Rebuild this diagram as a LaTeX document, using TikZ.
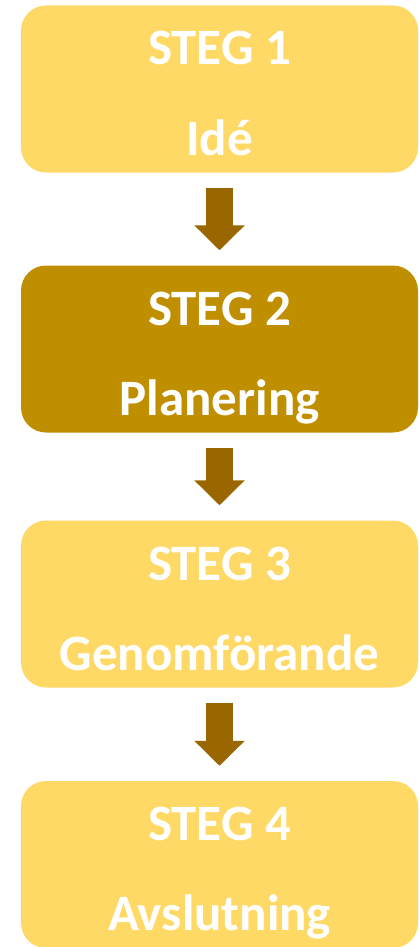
\documentclass[tikz,border=0pt]{standalone}
\usepackage{fontspec}
\setmainfont{Carlito}
\usetikzlibrary{arrows.meta}
\definecolor{stegljus}{HTML}{FFD966}
\definecolor{stegmork}{HTML}{BF8F00}
\definecolor{pil}{HTML}{996600}
\begin{document}
\begin{tikzpicture}[x=1pt,y=-1pt]
        \tikzstyle{steg}=[rectangle,rounded corners=25pt,fill=stegljus,minimum width=397pt,minimum height=167pt,inner sep=0pt]
        \tikzstyle{aktiv}=[fill=stegmork]
        \tikzstyle{rubrik}=[text=white,font=\fontsize{51}{51}\selectfont\bfseries,inner sep=0pt,anchor=base]
        \tikzstyle{flow}=[draw=pil,line width=27pt,-{Triangle[width=49pt,length=25pt]}]
        \useasboundingbox (0,0) rectangle (419,947);
        \begin{scope}
                \node [steg] (s1) at (219.5,89) {};
                \node [steg,aktiv] (s2) at (219.5,349) {};
                \node [steg] (s3) at (219.5,604) {};
                \node [steg] (s4) at (219.5,864.5) {};
                \node [rubrik] (s1a) at ([yshift=24pt]s1.center) {STEG 1};
                \node [rubrik] (s1b) at ([yshift=-66pt]s1.center) {Idé};
                \node [rubrik] (s2a) at ([yshift=24pt]s2.center) {STEG 2};
                \node [rubrik] (s2b) at ([yshift=-66pt]s2.center) {Planering};
                \node [rubrik] (s3a) at ([yshift=24pt]s3.center) {STEG 3};
                \node [rubrik] (s3b) at ([yshift=-66pt]s3.center) {Genomförande};
                \node [rubrik] (s4a) at ([yshift=24pt]s4.center) {STEG 4};
                \node [rubrik] (s4b) at ([yshift=-66pt]s4.center) {Avslutning};
                \path[flow] ([yshift=-15pt]s1.south) -- ([yshift=15pt]s2.north);
                \path[flow] ([yshift=-15pt]s2.south) -- ([yshift=15pt]s3.north);
                \path[flow] ([yshift=-15pt]s3.south) -- ([yshift=15pt]s4.north);
        \end{scope}
\end{tikzpicture}
\end{document}
